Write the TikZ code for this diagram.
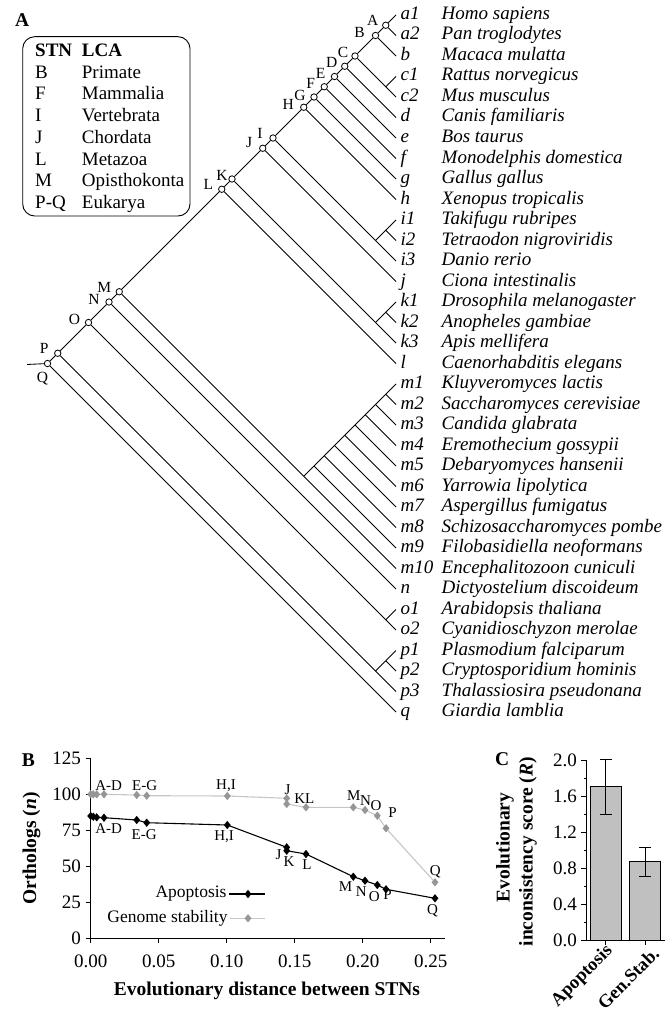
\documentclass[tikz,border=0pt]{standalone}
\usepackage{fontspec}
\setmainfont{Liberation Serif}
\usetikzlibrary{shapes.geometric,calc}
\definecolor{gsline}{RGB}{198,198,198}
\definecolor{gsmark}{RGB}{150,150,150}
\definecolor{barfill}{RGB}{192,192,192}
\tikzset{
  branch/.style={line width=0.85pt},
  stn/.style={circle,draw,fill=white,line width=0.8pt,inner sep=0pt,minimum size=6.4pt},
  stnlab/.style={font=\fontsize{15.5}{16}\selectfont,inner sep=0pt},
  leaflab/.style={font=\fontsize{19}{20}\selectfont\itshape,anchor=base west,inner sep=0pt},
  panel/.style={font=\fontsize{19.5}{20}\selectfont\bfseries,anchor=base west,inner sep=0pt},
  legtxt/.style={font=\fontsize{19}{20}\selectfont,anchor=base west,inner sep=0pt},
  leghead/.style={legtxt,font=\fontsize{19}{20}\selectfont\bfseries},
  ticklab/.style={font=\fontsize{19}{20}\selectfont,inner sep=0pt},
  axtitle/.style={font=\fontsize{19.5}{23}\selectfont\bfseries,inner sep=0pt},
  catlab/.style={font=\fontsize{18.5}{20}\selectfont\bfseries,inner sep=0pt,rotate=45,anchor=east},
  ptlab/.style={font=\fontsize{15}{16}\selectfont,inner sep=0pt},
  keytxt/.style={font=\fontsize{17.5}{18}\selectfont,inner sep=0pt,anchor=east},
  axisline/.style={line width=0.9pt},
  apodia/.style={diamond,fill=black,inner sep=0pt,minimum width=7pt,minimum height=8.5pt},
  gsdia/.style={diamond,fill=gsmark,inner sep=0pt,minimum width=7pt,minimum height=8.5pt},
}
\begin{document}
\begin{tikzpicture}[x=1pt,y=-1pt]
\useasboundingbox (0,0) rectangle (665,1014);

% ---------------- Panel A: cladogram ----------------
\node[panel] (pA) at (15,26.7) {A};

% legend box
\draw[line width=0.9pt,rounded corners=12pt] (22.7,36.7) rectangle (190,216);
\node[leghead] (hSTN) at (35,57) {STN};
\node[leghead] (hLCA) at (81.7,57) {LCA};
\foreach \s/\t/\y [count=\n] in {B/Primate/78.3, F/Mammalia/100, I/Vertebrata/121.6,
    J/Chordata/143.3, L/Metazoa/165, M/Opisthokonta/186.6, P-Q/Eukarya/208.3} {
  \node[legtxt] (ks\n) at (35,\y) {\s};
  \node[legtxt] (kt\n) at (81.7,\y) {\t};
}

% leaves: tips, short labels and species names
\foreach \i/\lab/\sp in {0/a1/Homo sapiens, 1/a2/Pan troglodytes, 2/b/Macaca mulatta,
    3/c1/Rattus norvegicus, 4/c2/Mus musculus, 5/d/Canis familiaris, 6/e/Bos taurus,
    7/f/Monodelphis domestica, 8/g/Gallus gallus, 9/h/Xenopus tropicalis,
    10/i1/Takifugu rubripes, 11/i2/Tetraodon nigroviridis, 12/i3/Danio rerio,
    13/j/Ciona intestinalis, 14/k1/Drosophila melanogaster, 15/k2/Anopheles gambiae,
    16/k3/Apis mellifera, 17/l/Caenorhabditis elegans, 18/m1/Kluyveromyces lactis,
    19/m2/Saccharomyces cerevisiae, 20/m3/Candida glabrata, 21/m4/Eremothecium gossypii,
    22/m5/Debaryomyces hansenii, 23/m6/Yarrowia lipolytica, 24/m7/Aspergillus fumigatus,
    25/m8/Schizosaccharomyces pombe, 26/m9/Filobasidiella neoformans,
    27/m10/Encephalitozoon cuniculi, 28/n/Dictyostelium discoideum,
    29/o1/Arabidopsis thaliana, 30/o2/Cyanidioschyzon merolae,
    31/p1/Plasmodium falciparum, 32/p2/Cryptosporidium hominis,
    33/p3/Thalassiosira pseudonana, 34/q/Giardia lamblia} {
  \coordinate (t-\lab) at (396,{15+20.5*\i});
  \node[leaflab] (l-\lab) at (400.5,{19.5+20.5*\i}) {\lab};
  \node[leaflab] (s-\lab) at (441.5,{19.5+20.5*\i}) {\sp};
}

% STN nodes (open circles) placed from the leaf range they cover
\foreach \nm/\i/\j in {A/0/1, B/0/2, C/0/4, D/0/5, E/0/6, F/0/7, G/0/8, H/0/9,
    I/0/12, J/0/13, K/0/16, L/0/17, M/0/27, N/0/28, O/0/30, P/0/33, Q/0/34} {
  \node[stn] (n-\nm) at ({396-10.25*(\j-\i)},{15+10.25*(\i+\j)}) {};
}
% other internal nodes
\foreach \nm/\i/\j in {c/3/4, i12/10/11, i/10/12, k12/14/15, k/14/16,
    m2/18/19, m3/18/20, m4/18/21, m5/18/22, m6/18/23, m7/18/24, m8/18/25,
    m9/18/26, m10/18/27, o/29/30, p12/31/32, p/31/33} {
  \coordinate (x-\nm) at ({396-10.25*(\j-\i)},{15+10.25*(\i+\j)});
}
\coordinate (root) at (27,364.5);

% STN letters
\foreach \nm/\dx/\dy in {A/-13/-5, B/-16/-3.5, C/-12/-4, D/-13/-3.5, E/-14/-3,
    F/-13.5/-3, G/-14/-2, H/-15.5/-3, I/-13/-4.7, J/-13.5/-5.5, K/-10/-4,
    L/-13.5/-5, M/-15/-4, N/-15/-3, O/-14/-3, P/-13.5/-5, Q/-5/15.5} {
  \node[stnlab] (lb-\nm) at ($(n-\nm)+(\dx,\dy)$) {\nm};
}

% branches
\draw[branch] (n-A) -- (t-a1);
\draw[branch] (n-A) -- (t-a2);
\draw[branch] (n-A) -- (n-B);
\draw[branch] (n-B) -- (t-b);
\draw[branch] (n-B) -- (n-C);
\draw[branch] (n-C) -- (x-c);
\draw[branch] (x-c) -- (t-c1);
\draw[branch] (x-c) -- (t-c2);
\draw[branch] (n-C) -- (n-D);
\draw[branch] (n-D) -- (t-d);
\draw[branch] (n-D) -- (n-E);
\draw[branch] (n-E) -- (t-e);
\draw[branch] (n-E) -- (n-F);
\draw[branch] (n-F) -- (t-f);
\draw[branch] (n-F) -- (n-G);
\draw[branch] (n-G) -- (t-g);
\draw[branch] (n-G) -- (n-H);
\draw[branch] (n-H) -- (t-h);
\draw[branch] (n-H) -- (n-I);
\draw[branch] (n-I) -- (x-i);
\draw[branch] (x-i) -- (x-i12);
\draw[branch] (x-i12) -- (t-i1);
\draw[branch] (x-i12) -- (t-i2);
\draw[branch] (x-i) -- (t-i3);
\draw[branch] (n-I) -- (n-J);
\draw[branch] (n-J) -- (t-j);
\draw[branch] (n-J) -- (n-K);
\draw[branch] (n-K) -- (x-k);
\draw[branch] (x-k) -- (x-k12);
\draw[branch] (x-k12) -- (t-k1);
\draw[branch] (x-k12) -- (t-k2);
\draw[branch] (x-k) -- (t-k3);
\draw[branch] (n-K) -- (n-L);
\draw[branch] (n-L) -- (t-l);
\draw[branch] (n-L) -- (n-M);
\draw[branch] (n-M) -- (x-m10);
\draw[branch] (x-m10) -- (x-m9) -- (x-m8) -- (x-m7) -- (x-m6) -- (x-m5)
  -- (x-m4) -- (x-m3) -- (x-m2) -- (t-m1);
\foreach \r in {2,...,10} { \draw[branch] (x-m\r) -- (t-m\r); }
\draw[branch] (n-M) -- (n-N);
\draw[branch] (n-N) -- (t-n);
\draw[branch] (n-N) -- (n-O);
\draw[branch] (n-O) -- (x-o);
\draw[branch] (x-o) -- (t-o1);
\draw[branch] (x-o) -- (t-o2);
\draw[branch] (n-O) -- (n-P);
\draw[branch] (n-P) -- (x-p);
\draw[branch] (x-p) -- (x-p12);
\draw[branch] (x-p12) -- (t-p1);
\draw[branch] (x-p12) -- (t-p2);
\draw[branch] (x-p) -- (t-p3);
\draw[branch] (n-P) -- (n-Q);
\draw[branch] (n-Q) -- (t-q);
\draw[branch] (n-Q) -- (root);

% ---------------- Panel B: orthologs vs distance ----------------
\node[panel] (pB) at (21.7,766) {B};
\draw[axisline] (90.7,758.3) -- (90.7,938.3) -- (445,938.3);
\foreach \v/\y [count=\n] in {125/758.3, 100/794.3, 75/830.3, 50/866.3, 25/902.3, 0/938.3} {
  \draw[axisline] (85.7,\y) -- (90.7,\y);
  \node[ticklab,anchor=east] (by\n) at (81,\y) {\v};
}
\foreach \v/\x [count=\n] in {0.00/90.7, 0.05/158.7, 0.10/226.7, 0.15/294.7, 0.20/362.7, 0.25/430.7} {
  \draw[axisline] (\x,938.3) -- (\x,943.3);
  \node[ticklab,anchor=north] (bx\n) at (\x,955) {\v};
}
\node[axtitle,anchor=base] (xtB) at (267,995) {Evolutionary distance between STNs};
\node[axtitle,rotate=90,anchor=base] (ytB) at (36.2,848.3) {Orthologs (\textit{n})};

% genome stability series
\foreach \x/\y [count=\n] in {90.7/794.3, 93.3/794.3, 96.7/794.3, 104/794.3, 136.7/795,
    146.7/795.7, 227.3/796, 286.7/798.3, 286.7/804, 306/807.3, 353.3/807.3,
    365/810, 377.3/815.7, 386/828.3, 435/882.3} {
  \coordinate (g\n) at (\x,\y);
}
\draw[gsline,line width=1.1pt] (g1) \foreach \k in {2,...,15} { -- (g\k) };
\foreach \k in {1,...,15} { \node[gsdia] (gm\k) at (g\k) {}; }

% apoptosis series
\foreach \x/\y [count=\n] in {90.7/816, 93.3/816.7, 96.7/817.3, 104/817.7, 136.7/820,
    146.7/822.7, 227.3/825, 286.7/847.3, 286.7/850.7, 306/854, 353.3/876.7,
    365/880.7, 377.3/885, 386/889.3, 435/898.3} {
  \coordinate (a\n) at (\x,\y);
}
\draw[line width=1.1pt] (a1) \foreach \k in {2,...,15} { -- (a\k) };
\foreach \k in {1,...,15} { \node[apodia] (am\k) at (a\k) {}; }

% STN labels on the series
\foreach \t/\x/\y [count=\n] in {A-D/108.7/785.3, E-G/144.7/785.3, {H,I}/226/785.3,
    J/287.5/789.2, KL/304.3/798.7, M/353.7/795.7, N/365.5/800.3, O/376/806,
    P/392.5/812.3, Q/435.3/871.3} {
  \node[ptlab] (gl\n) at (\x,\y) {\t};
}
\foreach \t/\x/\y [count=\n] in {A-D/108.7/828.8, E-G/144.2/834.3, {H,I}/224.2/836.8,
    J/278.5/854.7, K/289/861.3, L/307/864.7, M/345.5/886.7, N/361.3/891.7,
    O/374.3/896.7, P/387.5/894.8, Q/432.5/910.8} {
  \node[ptlab] (al\n) at (\x,\y) {\t};
}

% key
\node[keytxt] (kApo) at (226.7,894) {Apoptosis};
\coordinate (ka1) at (229,894);
\coordinate (ka2) at (265,894);
\draw[line width=1.1pt] (ka1) -- (ka2);
\node[apodia] (kam) at (248,894) {};
\node[keytxt] (kGs) at (227.7,918.3) {Genome stability};
\coordinate (kg1) at (230,918.3);
\coordinate (kg2) at (265,918.3);
\draw[gsline,line width=1.1pt] (kg1) -- (kg2);
\node[gsdia] (kgm) at (248,918.3) {};

% ---------------- Panel C: inconsistency score ----------------
\node[panel] (pC) at (495,765) {C};
\draw[fill=barfill,line width=0.9pt] (590,940) rectangle (621.7,786.7);
\draw[fill=barfill,line width=0.9pt] (629,940) rectangle (660.7,861.7);
% error bars
\draw[axisline] (605.7,759) -- (605.7,814.3);
\draw[axisline] (599.7,759) -- (611.7,759);
\draw[axisline] (599.7,814.3) -- (611.7,814.3);
\draw[axisline] (645,847.7) -- (645,876);
\draw[axisline] (639,847.7) -- (651,847.7);
\draw[axisline] (639,876) -- (651,876);
% axes
\draw[axisline] (586.7,760) -- (586.7,940) -- (665,940);
\foreach \v/\y [count=\n] in {2.0/760, 1.6/796, 1.2/832, 0.8/868, 0.4/904, 0.0/940} {
  \draw[axisline] (581,\y) -- (586.7,\y);
  \node[ticklab,anchor=east] (cy\n) at (577,\y) {\v};
}
\foreach \y in {778,814,850,886,922} { \draw[axisline] (583.5,\y) -- (586.7,\y); }
\draw[axisline] (605.7,940) -- (605.7,945);
\draw[axisline] (645,940) -- (645,945);
\node[catlab] (cxa) at (610,948.5) {Apoptosis};
\node[catlab] (cxg) at (656,950.5) {Gen.Stab.};
\node[axtitle,rotate=90,anchor=base] (ctA) at (509.6,847.5) {Evolutionary};
\node[axtitle,rotate=90,anchor=base] (ctB) at (532.5,851.7) {inconsistency score (\textit{R})};
\end{tikzpicture}
\end{document}
